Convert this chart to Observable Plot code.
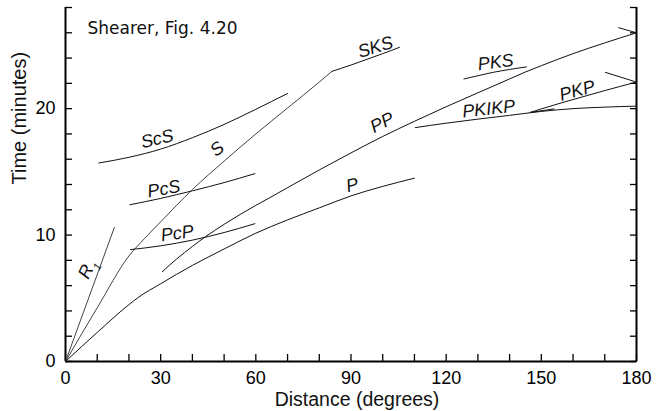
<!DOCTYPE html>
<html>
<head>
<meta charset="utf-8">
<script src="https://cdn.jsdelivr.net/npm/d3@7"></script>
<script src="https://cdn.jsdelivr.net/npm/@observablehq/plot@0.6"></script>
<style>
  html, body { margin: 0; padding: 0; background: white; }
</style>
</head>
<body>
<div id="chart"></div>
<script>
// Travel-time curves: [distance (degrees), time (minutes)]
const R1 = [[0,0],[15.4,10.6]];
const P = [[0,0],[10,2.3],[20,4.5],[23,5.08],[30,6.15],[40,7.6],[50,8.9],[60,10.15],[70,11.2],[80,12.15],[90,13.1],[100,13.85],[110,14.5]];
const S = [[0,0],[10,4.25],[20,8.35],[25,9.75],[30,11.05],[35,12.35],[40,13.6],[50,15.85],[60,18.0],[70,20.05],[80,22.1],[84,22.95]];
const SKS = [[84,22.95],[90,23.45],[95,23.9],[100,24.35],[105.3,24.85]];
const ScS = [[10.5,15.7],[20,16.15],[30,16.8],[40,17.7],[50,18.75],[60,19.95],[70,21.2]];
const PcS = [[20.3,12.4],[30,12.9],[40,13.5],[50,14.15],[59.7,14.86]];
const PcP = [[20.5,8.85],[30,9.15],[40,9.6],[50,10.2],[59.7,10.9]];
const PP = [[30.5,7.1],[35,8.1],[40,9.1],[44,9.85],[50,10.85],[60,12.35],[64,12.9],[70,13.75],[80,15.15],[90,16.5],[100,17.8],[110,19.0],[120,20.15],[130,21.25],[140,22.35],[145,22.9],[150,23.4],[160,24.35],[170,25.2],[180,26.0]];
const PP_fold = [[180,26.0],[174.4,26.4]];
const PKS = [[125.6,22.35],[130,22.6],[135,22.88],[140,23.1],[145.3,23.3]];
const PKIKP = [[110.3,18.5],[120,18.85],[130,19.17],[140,19.47],[146.6,19.68],[150,19.78],[160,20.0],[170,20.12],[180,20.2]];
const PKP_AB = [[146.5,19.7],[150,19.98],[160,20.72],[170,21.43],[180,22.1]];
const PKP_fold = [[180,22.1],[170.2,22.87]];
const PKP_BC = [[146.5,19.7],[154,19.98]];

// Phase labels
const labelText  = ["R1","S","ScS","PcS","PcP","SKS","PP","P","PKS","PKIKP","PKP"];
const labelDist  = [6.84,47.8,28.9,31.0,35.2,97.7,99.8,90.4,135.6,133.4,161.3];
const labelTime  = [7.33,16.8,17.6,13.65,10.14,24.85,18.9,13.95,23.66,19.98,21.42];
const labelAngle = [-64,-40,-13,-10,-8,-17,-27,-14,-7,-6,-15];

// Axis ticks
const xTicks = [0,10,20,30,40,50,60,70,80,90,100,110,120,130,140,150,160,170,180];
const xTickLabels = [0,30,60,90,120,150,180];
const yTicks = [0,2,4,6,8,10,12,14,16,18,20,22,24,26,28];
const yTickLabels = [0,10,20];

const title = "Shearer, Fig. 4.20";
const xLabel = "Distance (degrees)";
const yLabel = "Time (minutes)";

const darkSeries = {P, SKS, ScS, PcS, PcP, PP, PP_fold, PKS, PKIKP, PKP_AB, PKP_fold, PKP_BC};
const greySeries = {R1, S};
const toRows = (obj) => Object.entries(obj).flatMap(([phase, pts]) => pts.map(([d, t]) => ({phase, d, t})));
const darkRows = toRows(darkSeries);
const greyRows = toRows(greySeries);
const labels = labelText.map((text, i) => ({text, d: labelDist[i], t: labelTime[i], angle: labelAngle[i]}));

const chart = Plot.plot({
  width: 656,
  height: 411,
  marginLeft: 65,
  marginRight: 20,
  marginTop: 7,
  marginBottom: 50,
  x: {domain: [0, 180], label: null},
  y: {domain: [0, 28], label: null},
  style: {fontFamily: "'Liberation Sans', Arial, sans-serif", background: "white", color: "black"},
  marks: [
    // inward ticks
    Plot.axisX({ticks: xTicks, tickSize: 7, dy: -7, tickFormat: () => "", strokeWidth: 1.3, label: null}),
    Plot.axisY({anchor: "left", ticks: yTicks, tickSize: 7, dx: 7, tickFormat: () => "", strokeWidth: 1.3, label: null}),
    Plot.axisY({anchor: "right", ticks: yTicks, tickSize: 7, dx: -7, tickFormat: () => "", strokeWidth: 1.3, label: null}),
    // tick labels
    Plot.axisX({ticks: xTickLabels, tickSize: 0, tickPadding: 10, fontSize: 18, label: null}),
    Plot.axisY({anchor: "left", ticks: yTickLabels, tickSize: 0, tickPadding: 10, fontSize: 18, label: null}),
    // frame lines
    Plot.ruleX([0, 180], {strokeWidth: 2}),
    Plot.ruleY([0], {strokeWidth: 2}),
    // curves
    Plot.line(greyRows, {x: "d", y: "t", z: "phase", stroke: "#444", strokeWidth: 1, curve: "monotone-x"}),
    Plot.line(darkRows, {x: "d", y: "t", z: "phase", stroke: "#111", strokeWidth: 1, curve: "monotone-x"}),
    // phase labels
    Plot.text(labels, {x: "d", y: "t", text: "text", rotate: "angle", fontSize: 18, fontStyle: "italic", fill: "#111", textAnchor: "middle", lineAnchor: "middle"}),
    // title and axis titles
    Plot.text([title], {text: d => d, frameAnchor: "top-left", dx: 22, dy: 26, lineAnchor: "bottom", textAnchor: "start", fontSize: 17, fontFamily: "'DejaVu Sans'", fill: "#111"}),
    Plot.text([xLabel], {text: d => d, frameAnchor: "bottom", dx: 6, dy: 44, lineAnchor: "bottom", fontSize: 19.5, fill: "#111"}),
    Plot.text([yLabel], {text: d => d, frameAnchor: "left", dx: -40, rotate: -90, lineAnchor: "bottom", fontSize: 20, fill: "#111"})
  ]
});

// subscript on R1
d3.select(chart).selectAll("text").each(function() {
  if (this.textContent === "R1") {
    const sel = d3.select(this);
    sel.text("R");
    sel.append("tspan").attr("baseline-shift", "sub").attr("font-size", "11px").text("1");
  }
});

document.getElementById("chart").appendChild(chart);
</script>
</body>
</html>
